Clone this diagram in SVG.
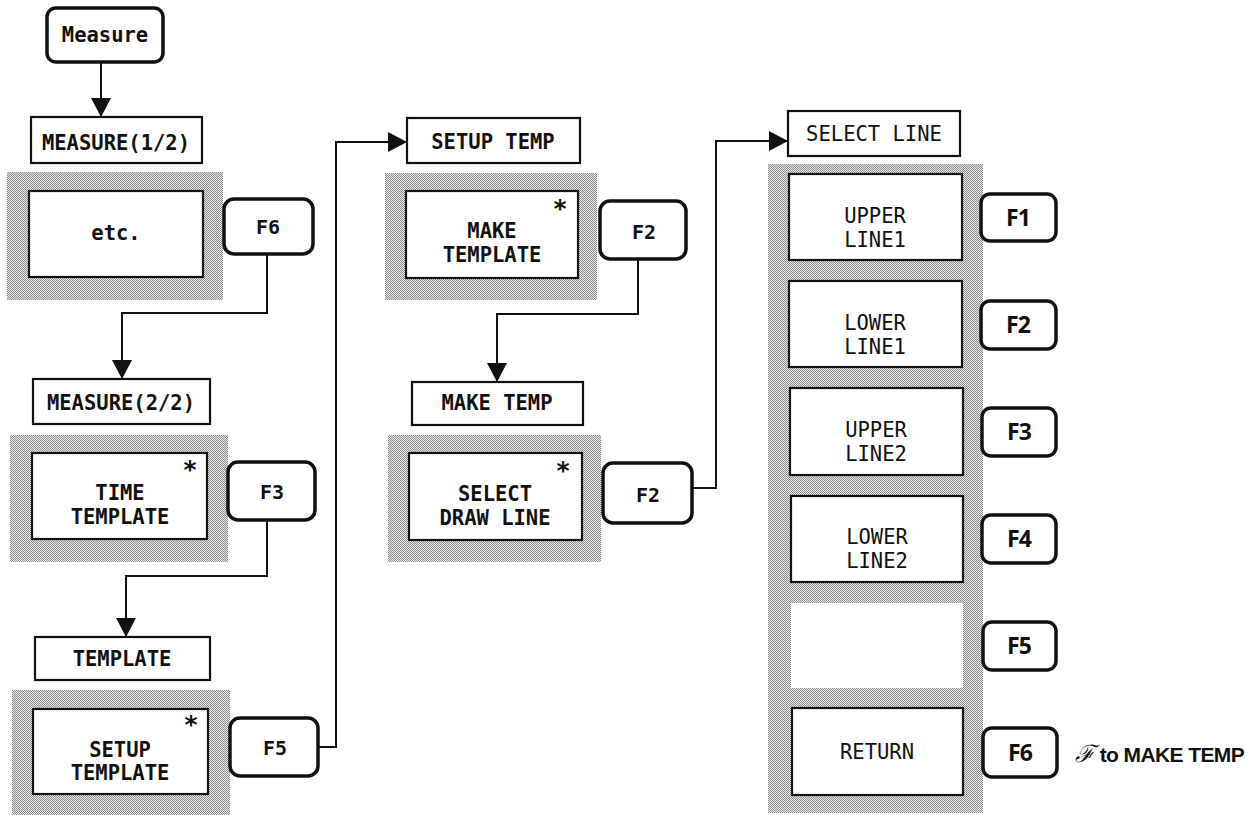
<svg xmlns="http://www.w3.org/2000/svg" width="1257" height="815" viewBox="0 0 1257 815">
<style>
.bg{fill:#fff}
.shade{fill:url(#dots)}
.box{fill:#fff;stroke:#111;stroke-width:2.2}
.key{fill:#fff;stroke:#111;stroke-width:3.5}
.lbl{font-family:"DejaVu Sans Mono","Liberation Mono",monospace;font-size:20.5px;font-weight:bold;fill:#111;text-anchor:middle}
.lblr{font-family:"DejaVu Sans Mono","Liberation Mono",monospace;font-size:20.5px;fill:#111;text-anchor:middle}
.k{font-family:"DejaVu Sans Mono","Liberation Mono",monospace;font-size:20px;font-weight:bold;fill:#111;text-anchor:middle}
.kr{font-family:"Noto Sans","Liberation Sans",sans-serif;font-size:23px;font-weight:bold;fill:#111;text-anchor:middle;letter-spacing:-1px}
.ast{font-family:"DejaVu Sans","Liberation Sans",sans-serif;font-size:25px;font-weight:bold;fill:#111;text-anchor:middle}
.note{font-family:"Liberation Sans",sans-serif;font-size:21px;font-weight:bold;fill:#111;letter-spacing:-0.6px}
.con{fill:none;stroke:#111;stroke-width:2}
</style>
<defs>
<pattern id="dots" x="0" y="0" width="2" height="2" patternUnits="userSpaceOnUse">
<rect x="0" y="0" width="2" height="2" fill="#ececec"/>
<rect x="0" y="0" width="1" height="1" fill="#8a8a8a"/>
<rect x="1" y="1" width="1" height="1" fill="#8a8a8a"/>
</pattern>
<marker id="arr" markerUnits="userSpaceOnUse" markerWidth="22" markerHeight="22" refX="19" refY="10" orient="auto">
<path d="M0,0 L19,10 L0,20 Z" fill="#111"/>
</marker>
</defs>
<rect class="bg" x="0" y="0" width="1257" height="815"/>

<!-- shaded panels -->
<rect class="shade" x="7" y="172" width="216" height="128"/>
<rect class="shade" x="10" y="435" width="218" height="127"/>
<rect class="shade" x="12" y="690" width="218" height="125"/>
<rect class="shade" x="385" y="173" width="212" height="127"/>
<rect class="shade" x="388" y="435" width="213" height="127"/>
<rect class="shade" x="768" y="164" width="215" height="649"/>

<g id="connectors">
<path class="con" d="M101,62 V117" marker-end="url(#arr)"/>
<path class="con" d="M267,254 V313 H122 V379" marker-end="url(#arr)"/>
<path class="con" d="M267,520 V576 H126 V637" marker-end="url(#arr)"/>
<path class="con" d="M318,747 H336 V142 H407" marker-end="url(#arr)"/>
<path class="con" d="M638,259 V314 H497 V382" marker-end="url(#arr)"/>
<path class="con" d="M692,488 H716 V141 H788" marker-end="url(#arr)"/>
</g>

<g id="measure-key"><rect class="key" x="47" y="8" width="116" height="54" rx="9"/><text class="lbl" x="105" y="42">Measure</text></g>

<g id="measure12"><rect class="box" x="31" y="117" width="171" height="46"/><text class="lbl" x="116" y="150">MEASURE(1/2)</text></g>
<g id="etc"><rect class="box" x="29" y="191" width="174" height="86"/><text class="lbl" x="116" y="240">etc.</text></g>
<g id="f6-left"><rect class="key" x="224" y="199" width="89" height="55" rx="10"/><text class="k" x="268" y="234">F6</text></g>

<g id="measure22"><rect class="box" x="33" y="379" width="177" height="45"/><text class="lbl" x="121" y="410">MEASURE(2/2)</text></g>
<g id="time-template"><rect class="box" x="32" y="453" width="175" height="86"/><text class="ast" x="190" y="478">*</text><text class="lbl" x="120" y="500">TIME</text><text class="lbl" x="120" y="524">TEMPLATE</text></g>
<g id="f3-left"><rect class="key" x="228" y="462" width="87" height="58" rx="10"/><text class="k" x="272" y="499">F3</text></g>

<g id="template"><rect class="box" x="35" y="637" width="175" height="43"/><text class="lbl" x="122" y="666">TEMPLATE</text></g>
<g id="setup-template"><rect class="box" x="33" y="709" width="175" height="85"/><text class="ast" x="191" y="733">*</text><text class="lbl" x="120" y="757">SETUP</text><text class="lbl" x="120" y="780">TEMPLATE</text></g>
<g id="f5-left"><rect class="key" x="230" y="718" width="88" height="58" rx="10"/><text class="k" x="275" y="755">F5</text></g>

<g id="setup-temp"><rect class="box" x="407" y="118" width="173" height="45"/><text class="lbl" x="493" y="149">SETUP TEMP</text></g>
<g id="make-template"><rect class="box" x="406" y="191" width="172" height="87"/><text class="ast" x="560" y="217">*</text><text class="lbl" x="492" y="238">MAKE</text><text class="lbl" x="492" y="262">TEMPLATE</text></g>
<g id="f2-mid"><rect class="key" x="600" y="201" width="86" height="58" rx="10"/><text class="k" x="644" y="239">F2</text></g>

<g id="make-temp"><rect class="box" x="412" y="382" width="171" height="43"/><text class="lbl" x="497" y="410">MAKE TEMP</text></g>
<g id="select-draw-line"><rect class="box" x="409" y="453" width="173" height="87"/><text class="ast" x="563" y="479">*</text><text class="lbl" x="495" y="501">SELECT</text><text class="lbl" x="495" y="525">DRAW LINE</text></g>
<g id="f2-mid2"><rect class="key" x="603" y="463" width="89" height="60" rx="10"/><text class="k" x="648" y="502">F2</text></g>

<g id="select-line"><rect class="box" x="788" y="111" width="172" height="45"/><text class="lblr" x="874" y="141">SELECT LINE</text></g>
<g id="upper-line1"><rect class="box" x="789" y="174" width="173" height="86"/><text class="lblr" x="875" y="223">UPPER</text><text class="lblr" x="875" y="247">LINE1</text></g>
<g id="lower-line1"><rect class="box" x="789" y="281" width="173" height="86"/><text class="lblr" x="875" y="330">LOWER</text><text class="lblr" x="875" y="354">LINE1</text></g>
<g id="upper-line2"><rect class="box" x="790" y="388" width="173" height="87"/><text class="lblr" x="876" y="437">UPPER</text><text class="lblr" x="876" y="461">LINE2</text></g>
<g id="lower-line2"><rect class="box" x="791" y="496" width="172" height="86"/><text class="lblr" x="877" y="544">LOWER</text><text class="lblr" x="877" y="568">LINE2</text></g>
<g id="blank"><rect x="791" y="603" width="172" height="85" fill="#fff"/></g>
<g id="return"><rect class="box" x="792" y="708" width="171" height="87"/><text class="lblr" x="877" y="759">RETURN</text></g>

<g id="f1"><rect class="key" x="981" y="194" width="75" height="47" rx="9"/><text class="kr" x="1018" y="226">F1</text></g>
<g id="f2"><rect class="key" x="981" y="301" width="75" height="48" rx="9"/><text class="kr" x="1018" y="333">F2</text></g>
<g id="f3"><rect class="key" x="982" y="408" width="74" height="48" rx="9"/><text class="kr" x="1019" y="440">F3</text></g>
<g id="f4"><rect class="key" x="982" y="515" width="74" height="48" rx="9"/><text class="kr" x="1019" y="547">F4</text></g>
<g id="f5"><rect class="key" x="983" y="622" width="73" height="48" rx="9"/><text class="kr" x="1019" y="654">F5</text></g>
<g id="f6"><rect class="key" x="983" y="728" width="74" height="49" rx="9"/><text class="kr" x="1020" y="761">F6</text></g>

<g id="note"><text class="note" x="1075" y="762"><tspan font-family="DejaVu Serif, serif" font-style="italic" font-weight="normal" font-size="24px">ℱ</tspan> to MAKE TEMP</text></g>
</svg>
